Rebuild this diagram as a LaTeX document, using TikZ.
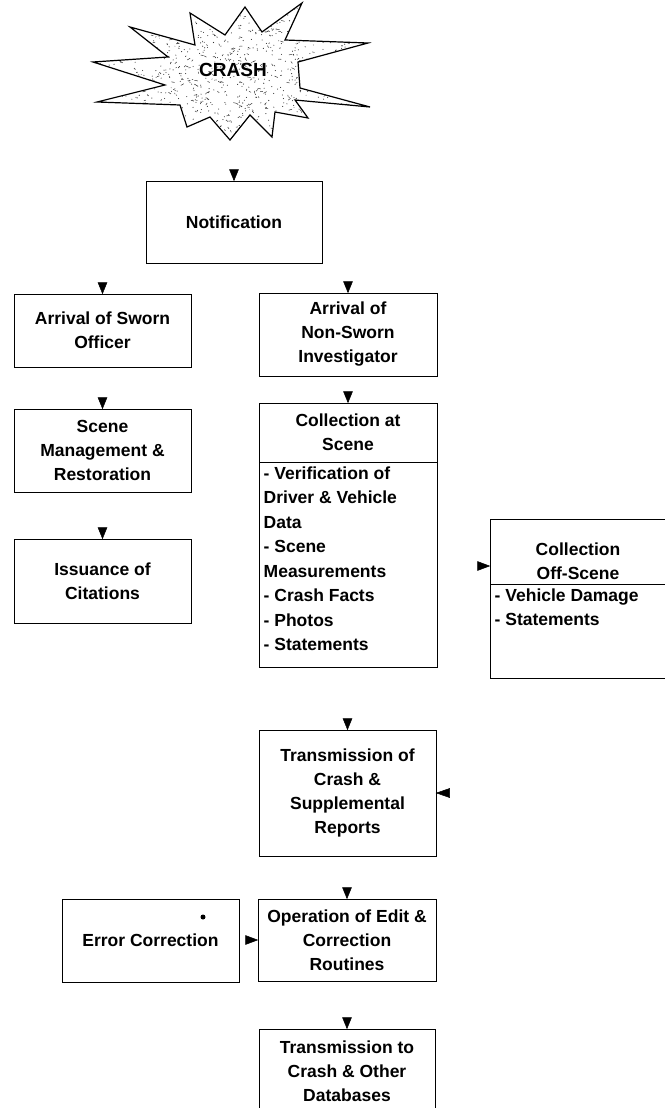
\documentclass[tikz,border=0pt]{standalone}
\usepackage{fontspec}
\setmainfont{Liberation Sans}
\usetikzlibrary{arrows.meta}
\begin{document}
\begin{tikzpicture}[x=1pt,y=-1pt,
  box/.style={draw=black, line width=1pt, fill=white, inner sep=0pt, align=center,
    font=\bfseries\fontsize{17.5}{24}\selectfont},
  sz/.style n args={2}{minimum width=#1pt, minimum height=#2pt},
  txt/.style={inner sep=0pt, align=center, font=\bfseries\fontsize{17.5}{24}\selectfont},
  lst/.style={inner sep=5pt, align=left, anchor=north west,
    font=\bfseries\fontsize{17.5}{24.5}\selectfont},
  headfill/.style={fill=black, draw=black, line width=0.5pt, line join=miter},
]
\useasboundingbox (0,0) rectangle (664,1108);

% crash star
\def\starpath{(190,13) -- (225,35) -- (245,7) -- (262,32) -- (302,3) -- (285,40)
  -- (368,43) -- (298,62) -- (300,88) -- (370,107) -- (295,100) -- (308,118)
  -- (275,112) -- (272,137) -- (250,115) -- (230,140) -- (210,117) -- (187,127)
  -- (180,105) -- (97,102) -- (165,85) -- (93,62) -- (168,57) -- (130,27)
  -- (195,45) -- cycle}
\begin{scope}
  \clip \starpath;
  \pgfmathsetseed{7}
  \foreach \i in {1,...,1000} {
    \pgfmathsetmacro\rx{90+285*rnd}
    \pgfmathsetmacro\ry{145*rnd}
    \fill[black!80] (\rx,\ry) circle (0.55);
  }
  \foreach \i in {1,...,450} {
    \pgfmathsetmacro\rx{90+285*rnd}
    \pgfmathsetmacro\ry{145*rnd}
    \pgfmathsetmacro\dx{3.5*rand}
    \pgfmathsetmacro\dy{2*rand}
    \draw[black!80, line width=0.5pt] (\rx,\ry) -- ++(\dx,\dy);
  }
\end{scope}
\draw[line width=1.2pt, line join=miter] \starpath;
\node[inner sep=1pt, font=\bfseries\fontsize{19}{22}\selectfont] (crash) at (233,70) {CRASH};

% boxes
\node[box, sz={176}{82}] (notif) at (234,222) {Notification};
\node[box, sz={177}{73}] (sworn) at (102.5,330.5) {Arrival of Sworn\\Officer};
\node[box, sz={178}{83}] (nonsworn) at (348,334.5) {Arrival of\\Non-Sworn\\Investigator};
\node[box, sz={177}{83}] (scene) at (102.5,450.5) {Scene\\Management \&\\Restoration};
\node[box, sz={177}{84}] (cit) at (102.5,581) {Issuance of\\Citations};

\node[box, sz={178}{59}] (colhead) at (348,432.5) {Collection at\\Scene};
\node[box, sz={178}{205}] (collist) at (348,564.5) {};
\node[lst] (collisttext) at (collist.north west) {- Verification of\\Driver \& Vehicle\\Data\\- Scene\\Measurements\\- Crash Facts\\- Photos\\- Statements};

\node[box, sz={176}{65}] (offhead) at (578,551.5) {};
\node[txt] (offheadtext) at (578,561) {Collection\\Off-Scene};
\node[box, sz={176}{94}] (offlist) at (578,631) {};
\node[lst] (offlisttext) at (offlist.north west) {- Vehicle Damage\\- Statements};

\node[box, sz={177}{126}] (trans1) at (347.5,793) {Transmission of\\Crash \&\\Supplemental\\Reports};
\node[box, sz={177}{83}] (err) at (150.5,940.5) {Error Correction};
\node[circle, fill=black, inner sep=0pt, minimum size=5pt] (dot) at (203,917) {};
\node[box, sz={178}{82}] (oper) at (347,940) {Operation of Edit \&\\Correction\\Routines};
\node[box, sz={176}{84}] (trans2) at (347,1071) {Transmission to\\Crash \& Other\\Databases};

% arrowheads (downward, on top edges)
\foreach \n in {notif,sworn,nonsworn,scene,cit,colhead,trans1,oper,trans2} {
  \filldraw[headfill] ([xshift=-4.5pt,yshift=11pt]\n.north) -- ([xshift=4.5pt,yshift=11pt]\n.north) -- (\n.north) -- cycle;
}
% side arrowheads
\filldraw[headfill] ([xshift=-12pt,yshift=-10pt]offhead.west) -- ([xshift=-12pt,yshift=-19pt]offhead.west) -- ([yshift=-14.5pt]offhead.west) -- cycle;
\filldraw[headfill] ([xshift=13pt,yshift=4.5pt]trans1.east) -- ([xshift=13pt,yshift=-4.5pt]trans1.east) -- (trans1.east) -- cycle;
\filldraw[headfill] ([xshift=-12pt,yshift=4.5pt]oper.west) -- ([xshift=-12pt,yshift=-4.5pt]oper.west) -- (oper.west) -- cycle;
\end{tikzpicture}
\end{document}
